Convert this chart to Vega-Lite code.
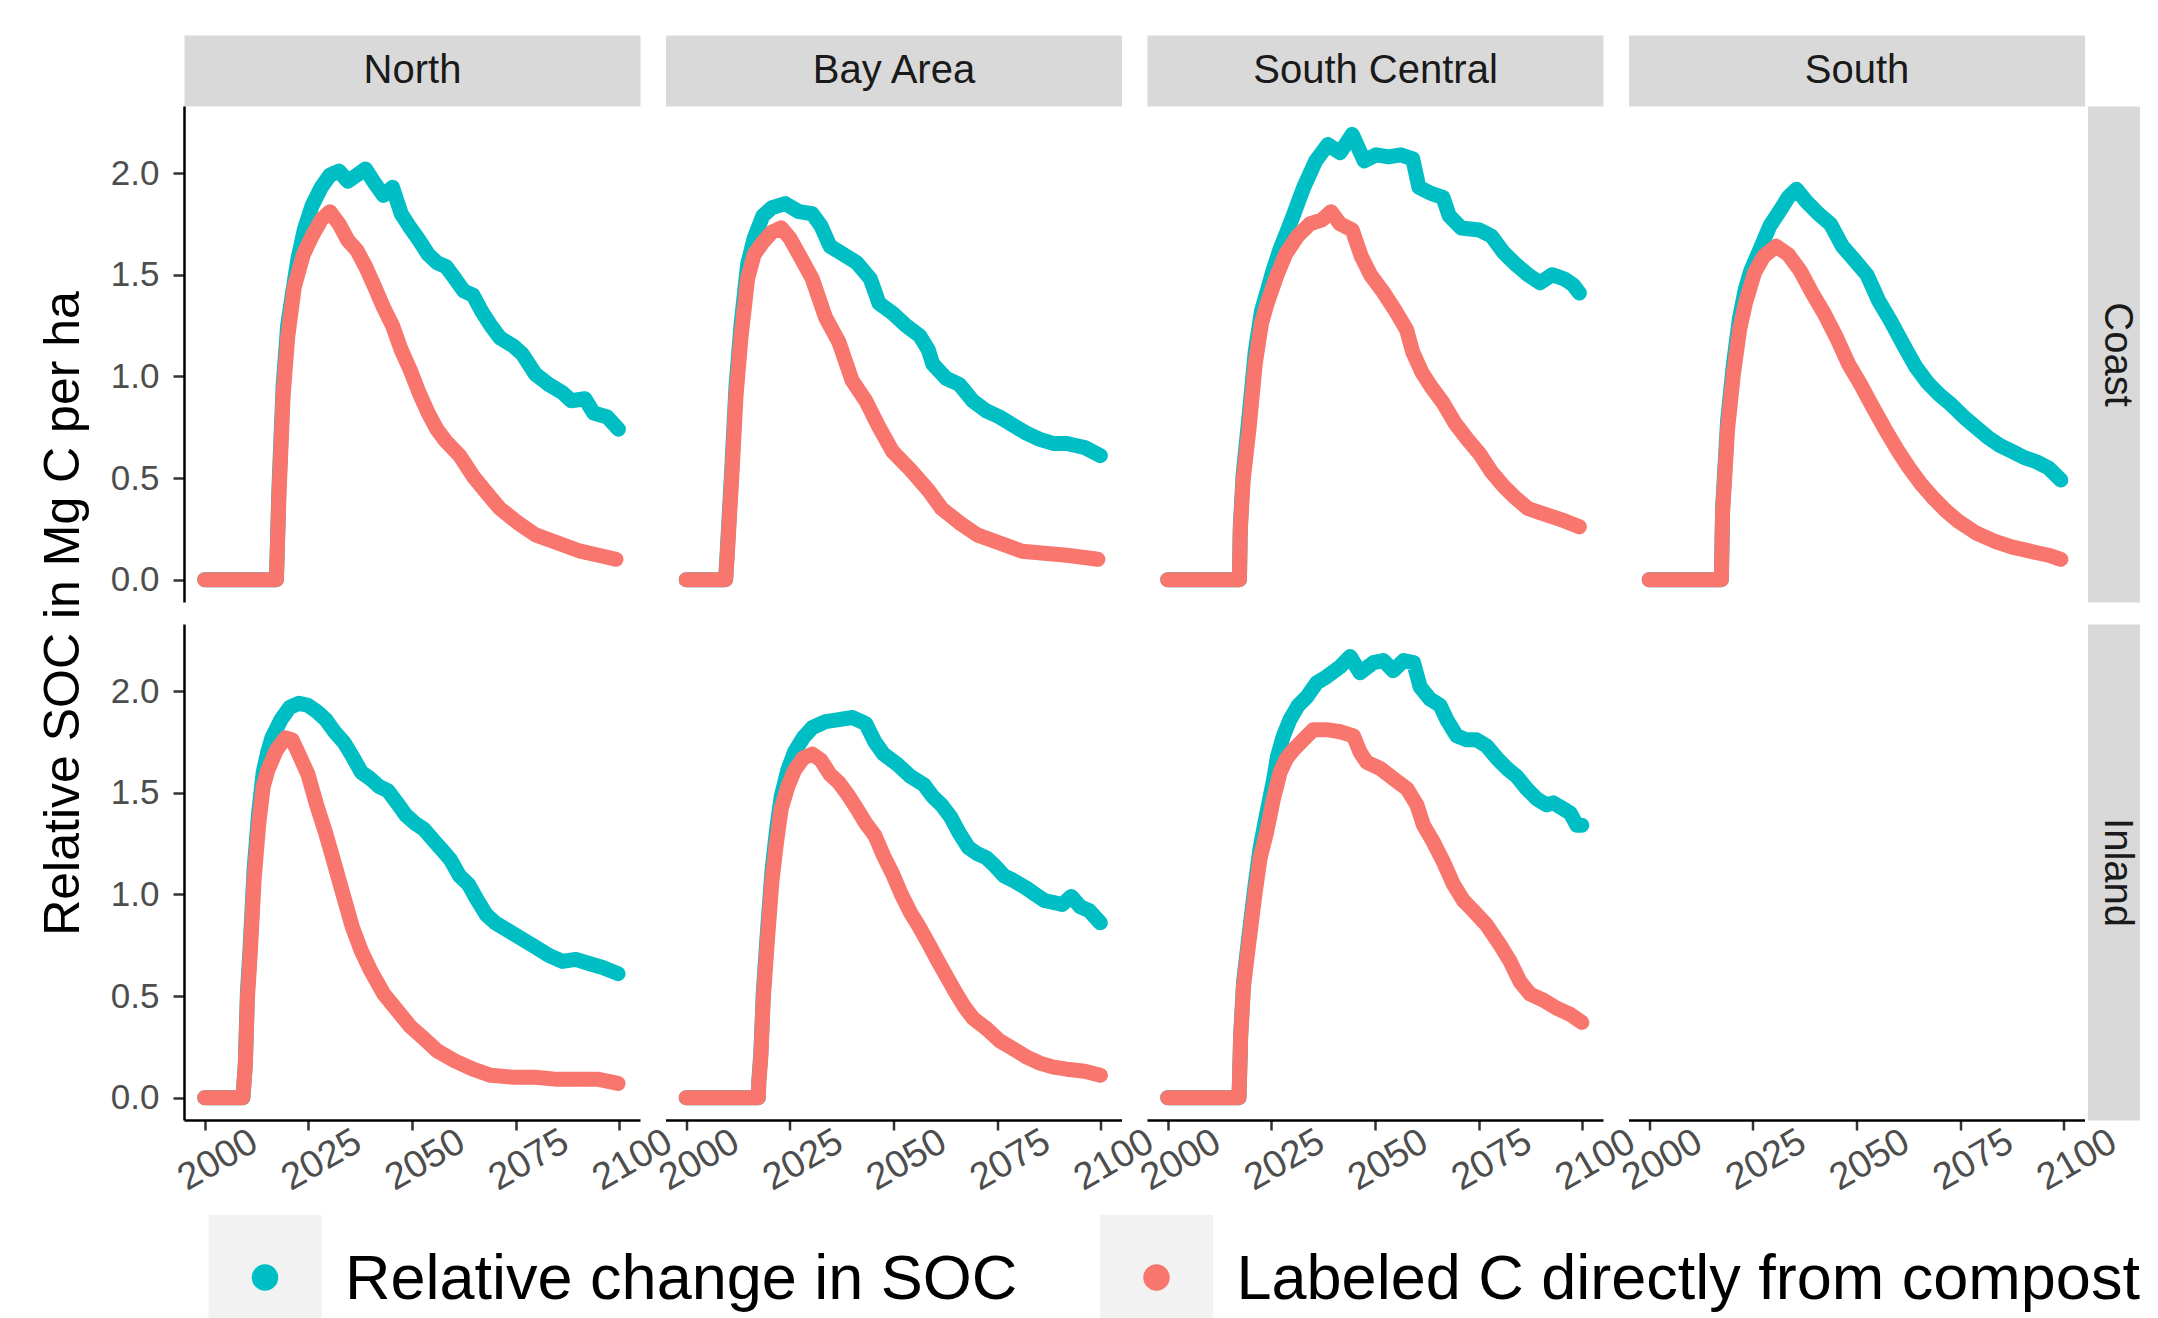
{
"$schema":"https://vega.github.io/schema/vega-lite/v6.json",
"padding":{"left":38,"top":50,"right":0,"bottom":0},
"background":"white",
"config":{"font":"Liberation Sans","view":{"stroke":null},"axis":{"grid":false}},
"datasets":{
"nc_l":[{"year":2000,"value":0},{"year":2004,"value":0},{"year":2008,"value":0},{"year":2012,"value":0},{"year":2016,"value":0},{"year":2017.3,"value":0},{"year":2017.9,"value":0.41},{"year":2018.9,"value":0.90},{"year":2020,"value":1.19},{"year":2021.6,"value":1.44},{"year":2023.8,"value":1.60},{"year":2025.9,"value":1.69},{"year":2028.1,"value":1.77},{"year":2030.2,"value":1.81},{"year":2032.4,"value":1.75},{"year":2034.5,"value":1.67},{"year":2036.7,"value":1.62},{"year":2038.8,"value":1.54},{"year":2041,"value":1.44},{"year":2043.1,"value":1.34},{"year":2045.3,"value":1.25},{"year":2047.4,"value":1.13},{"year":2049.6,"value":1.03},{"year":2051.7,"value":0.92},{"year":2053.9,"value":0.82},{"year":2056,"value":0.74},{"year":2058.2,"value":0.68},{"year":2061.5,"value":0.61},{"year":2064.7,"value":0.51},{"year":2067.9,"value":0.43},{"year":2071.2,"value":0.35},{"year":2075.5,"value":0.28},{"year":2079.8,"value":0.22},{"year":2085.2,"value":0.18},{"year":2090.6,"value":0.14},{"year":2095,"value":0.12},{"year":2099.2,"value":0.10}],
"nc_s":[{"year":2000,"value":0},{"year":2004,"value":0},{"year":2008,"value":0},{"year":2012,"value":0},{"year":2016,"value":0},{"year":2017.3,"value":0},{"year":2017.9,"value":0.45},{"year":2018.9,"value":0.95},{"year":2020,"value":1.25},{"year":2021.1,"value":1.40},{"year":2022.5,"value":1.58},{"year":2024,"value":1.72},{"year":2025.9,"value":1.84},{"year":2028.1,"value":1.93},{"year":2030.2,"value":1.99},{"year":2032.4,"value":2.01},{"year":2034.5,"value":1.96},{"year":2036.7,"value":1.99},{"year":2038.8,"value":2.02},{"year":2041,"value":1.95},{"year":2043.1,"value":1.89},{"year":2045.3,"value":1.93},{"year":2047.4,"value":1.80},{"year":2049.6,"value":1.73},{"year":2051.7,"value":1.67},{"year":2053.9,"value":1.60},{"year":2056,"value":1.56},{"year":2058.2,"value":1.54},{"year":2060.4,"value":1.48},{"year":2062.5,"value":1.42},{"year":2064.7,"value":1.40},{"year":2066.8,"value":1.32},{"year":2069,"value":1.25},{"year":2071.2,"value":1.19},{"year":2074.4,"value":1.15},{"year":2076.6,"value":1.11},{"year":2079.8,"value":1.01},{"year":2083,"value":0.96},{"year":2086.3,"value":0.92},{"year":2088.4,"value":0.88},{"year":2091.7,"value":0.89},{"year":2093.8,"value":0.82},{"year":2097.1,"value":0.80},{"year":2099.8,"value":0.74}],
"bc_l":[{"year":2000,"value":0},{"year":2003,"value":0},{"year":2006,"value":0},{"year":2009.5,"value":0},{"year":2009.9,"value":0.12},{"year":2011,"value":0.51},{"year":2012,"value":0.90},{"year":2013.2,"value":1.19},{"year":2014.8,"value":1.48},{"year":2016.4,"value":1.60},{"year":2018.5,"value":1.66},{"year":2020.7,"value":1.71},{"year":2022.9,"value":1.73},{"year":2025,"value":1.68},{"year":2027.2,"value":1.60},{"year":2030.4,"value":1.48},{"year":2033.6,"value":1.29},{"year":2036.8,"value":1.17},{"year":2040,"value":0.98},{"year":2043.3,"value":0.88},{"year":2046.5,"value":0.75},{"year":2049.8,"value":0.63},{"year":2054.1,"value":0.54},{"year":2058.4,"value":0.44},{"year":2061.6,"value":0.35},{"year":2065.9,"value":0.28},{"year":2070.2,"value":0.22},{"year":2075.6,"value":0.18},{"year":2081,"value":0.14},{"year":2086.4,"value":0.13},{"year":2091.8,"value":0.12},{"year":2099.3,"value":0.10}],
"bc_s":[{"year":2000,"value":0},{"year":2003,"value":0},{"year":2006,"value":0},{"year":2009.5,"value":0},{"year":2009.9,"value":0.14},{"year":2011,"value":0.55},{"year":2012,"value":0.95},{"year":2013.2,"value":1.25},{"year":2014.8,"value":1.55},{"year":2016.4,"value":1.68},{"year":2018.5,"value":1.79},{"year":2020.7,"value":1.83},{"year":2023.9,"value":1.85},{"year":2027.2,"value":1.81},{"year":2030.4,"value":1.80},{"year":2032.5,"value":1.74},{"year":2034.7,"value":1.64},{"year":2037.9,"value":1.60},{"year":2041.1,"value":1.56},{"year":2044.4,"value":1.48},{"year":2046.5,"value":1.36},{"year":2049.8,"value":1.31},{"year":2053,"value":1.25},{"year":2056.3,"value":1.20},{"year":2058.4,"value":1.13},{"year":2059.5,"value":1.06},{"year":2062.7,"value":0.99},{"year":2065.9,"value":0.96},{"year":2069.1,"value":0.88},{"year":2072.4,"value":0.83},{"year":2075.6,"value":0.80},{"year":2078.8,"value":0.76},{"year":2082.1,"value":0.72},{"year":2085.3,"value":0.69},{"year":2088.5,"value":0.67},{"year":2091.8,"value":0.67},{"year":2096.1,"value":0.65},{"year":2099.9,"value":0.61}],
"sc_l":[{"year":2000,"value":0},{"year":2004,"value":0},{"year":2008,"value":0},{"year":2012,"value":0},{"year":2016,"value":0},{"year":2017.3,"value":0},{"year":2017.5,"value":0.24},{"year":2018.2,"value":0.49},{"year":2019.6,"value":0.74},{"year":2021.1,"value":1.06},{"year":2022.6,"value":1.26},{"year":2024,"value":1.36},{"year":2026.2,"value":1.49},{"year":2028.4,"value":1.60},{"year":2031.3,"value":1.69},{"year":2034.3,"value":1.75},{"year":2037.2,"value":1.77},{"year":2039.4,"value":1.81},{"year":2041.6,"value":1.75},{"year":2044.5,"value":1.72},{"year":2046.7,"value":1.59},{"year":2048.9,"value":1.50},{"year":2051.8,"value":1.42},{"year":2054.7,"value":1.33},{"year":2057.6,"value":1.23},{"year":2059.1,"value":1.12},{"year":2061.3,"value":1.02},{"year":2063.5,"value":0.95},{"year":2066.4,"value":0.87},{"year":2069.3,"value":0.77},{"year":2072.3,"value":0.69},{"year":2075.2,"value":0.62},{"year":2078.1,"value":0.53},{"year":2081,"value":0.46},{"year":2084,"value":0.40},{"year":2086.9,"value":0.35},{"year":2089.8,"value":0.33},{"year":2092.7,"value":0.31},{"year":2095.6,"value":0.29},{"year":2099.3,"value":0.26}],
"sc_s":[{"year":2000,"value":0},{"year":2004,"value":0},{"year":2008,"value":0},{"year":2012,"value":0},{"year":2016,"value":0},{"year":2017.3,"value":0},{"year":2017.5,"value":0.26},{"year":2018.2,"value":0.52},{"year":2019.6,"value":0.80},{"year":2021.1,"value":1.12},{"year":2022.6,"value":1.32},{"year":2024,"value":1.42},{"year":2025.4,"value":1.52},{"year":2027,"value":1.62},{"year":2029.9,"value":1.77},{"year":2032.8,"value":1.93},{"year":2035.7,"value":2.06},{"year":2038.6,"value":2.14},{"year":2041.6,"value":2.10},{"year":2044.5,"value":2.19},{"year":2047.4,"value":2.06},{"year":2050.3,"value":2.09},{"year":2053.3,"value":2.08},{"year":2056.2,"value":2.09},{"year":2059.1,"value":2.07},{"year":2060.6,"value":1.93},{"year":2063.5,"value":1.90},{"year":2066.4,"value":1.88},{"year":2067.9,"value":1.79},{"year":2070.8,"value":1.73},{"year":2075.2,"value":1.72},{"year":2078.1,"value":1.69},{"year":2081,"value":1.61},{"year":2084,"value":1.55},{"year":2086.9,"value":1.50},{"year":2089.8,"value":1.46},{"year":2092.7,"value":1.50},{"year":2095.6,"value":1.48},{"year":2097.8,"value":1.45},{"year":2099.3,"value":1.41}],
"so_l":[{"year":2000,"value":0},{"year":2004,"value":0},{"year":2008,"value":0},{"year":2012,"value":0},{"year":2016,"value":0},{"year":2017.4,"value":0},{"year":2017.7,"value":0.33},{"year":2018.9,"value":0.74},{"year":2020.3,"value":1.01},{"year":2021.8,"value":1.23},{"year":2023.2,"value":1.36},{"year":2025.4,"value":1.51},{"year":2027.6,"value":1.59},{"year":2030.6,"value":1.64},{"year":2033.5,"value":1.60},{"year":2036.4,"value":1.52},{"year":2039.3,"value":1.41},{"year":2042.2,"value":1.31},{"year":2045.2,"value":1.19},{"year":2048.1,"value":1.06},{"year":2051,"value":0.96},{"year":2053.9,"value":0.85},{"year":2056.9,"value":0.74},{"year":2059.8,"value":0.64},{"year":2062.7,"value":0.55},{"year":2065.6,"value":0.47},{"year":2068.6,"value":0.40},{"year":2071.5,"value":0.34},{"year":2074.4,"value":0.29},{"year":2078.8,"value":0.23},{"year":2083.2,"value":0.19},{"year":2087.6,"value":0.16},{"year":2091.9,"value":0.14},{"year":2096.3,"value":0.12},{"year":2099.3,"value":0.10}],
"so_s":[{"year":2000,"value":0},{"year":2004,"value":0},{"year":2008,"value":0},{"year":2012,"value":0},{"year":2016,"value":0},{"year":2017.4,"value":0},{"year":2017.7,"value":0.35},{"year":2018.9,"value":0.78},{"year":2020.3,"value":1.06},{"year":2021.8,"value":1.29},{"year":2023.2,"value":1.43},{"year":2024.5,"value":1.52},{"year":2026.2,"value":1.60},{"year":2029.1,"value":1.74},{"year":2032,"value":1.83},{"year":2033.5,"value":1.88},{"year":2035.5,"value":1.92},{"year":2037.9,"value":1.86},{"year":2040.8,"value":1.80},{"year":2043.7,"value":1.75},{"year":2046.6,"value":1.64},{"year":2049.6,"value":1.57},{"year":2052.5,"value":1.50},{"year":2055.4,"value":1.37},{"year":2058.3,"value":1.27},{"year":2061.2,"value":1.16},{"year":2064.2,"value":1.05},{"year":2067.1,"value":0.97},{"year":2070,"value":0.91},{"year":2072.9,"value":0.86},{"year":2075.9,"value":0.80},{"year":2078.8,"value":0.75},{"year":2081.7,"value":0.70},{"year":2084.6,"value":0.66},{"year":2087.6,"value":0.63},{"year":2090.5,"value":0.60},{"year":2093.4,"value":0.58},{"year":2096.3,"value":0.55},{"year":2099.3,"value":0.49}],
"ni_l":[{"year":2000,"value":0},{"year":2003,"value":0},{"year":2006,"value":0},{"year":2009.2,"value":0},{"year":2009.4,"value":0.05},{"year":2009.8,"value":0.16},{"year":2010.3,"value":0.49},{"year":2010.9,"value":0.68},{"year":2011.9,"value":1.07},{"year":2013,"value":1.34},{"year":2014.1,"value":1.53},{"year":2015.2,"value":1.61},{"year":2017.3,"value":1.71},{"year":2019.5,"value":1.77},{"year":2021.1,"value":1.76},{"year":2022.7,"value":1.69},{"year":2024.9,"value":1.59},{"year":2027,"value":1.44},{"year":2029.2,"value":1.30},{"year":2031.3,"value":1.15},{"year":2033.5,"value":0.99},{"year":2035.6,"value":0.84},{"year":2037.8,"value":0.72},{"year":2039.9,"value":0.63},{"year":2043.2,"value":0.51},{"year":2046.4,"value":0.43},{"year":2049.6,"value":0.35},{"year":2052.9,"value":0.29},{"year":2056.1,"value":0.23},{"year":2060.4,"value":0.18},{"year":2064.7,"value":0.14},{"year":2069,"value":0.11},{"year":2074.4,"value":0.10},{"year":2079.8,"value":0.10},{"year":2085,"value":0.09},{"year":2090.5,"value":0.09},{"year":2095,"value":0.09},{"year":2099.7,"value":0.07}],
"ni_s":[{"year":2000,"value":0},{"year":2003,"value":0},{"year":2006,"value":0},{"year":2009.2,"value":0},{"year":2009.4,"value":0.05},{"year":2009.8,"value":0.17},{"year":2010.3,"value":0.52},{"year":2010.9,"value":0.72},{"year":2011.9,"value":1.12},{"year":2013,"value":1.40},{"year":2014.1,"value":1.60},{"year":2015.2,"value":1.70},{"year":2016.2,"value":1.77},{"year":2018.4,"value":1.86},{"year":2020.5,"value":1.92},{"year":2022.7,"value":1.94},{"year":2024.9,"value":1.93},{"year":2027,"value":1.90},{"year":2029.2,"value":1.86},{"year":2031.3,"value":1.80},{"year":2033.5,"value":1.75},{"year":2035.6,"value":1.68},{"year":2037.8,"value":1.60},{"year":2039.9,"value":1.57},{"year":2042.1,"value":1.53},{"year":2044.2,"value":1.51},{"year":2046.4,"value":1.45},{"year":2048.5,"value":1.39},{"year":2050.7,"value":1.35},{"year":2052.9,"value":1.32},{"year":2055,"value":1.27},{"year":2057.2,"value":1.22},{"year":2059.3,"value":1.17},{"year":2061.5,"value":1.09},{"year":2063.6,"value":1.05},{"year":2065.8,"value":0.97},{"year":2067.9,"value":0.90},{"year":2070.1,"value":0.86},{"year":2073.3,"value":0.82},{"year":2076.6,"value":0.78},{"year":2079.8,"value":0.74},{"year":2083,"value":0.70},{"year":2086.3,"value":0.67},{"year":2089.5,"value":0.68},{"year":2092.7,"value":0.66},{"year":2096,"value":0.64},{"year":2099.7,"value":0.61}],
"bi_l":[{"year":2000,"value":0},{"year":2004,"value":0},{"year":2008,"value":0},{"year":2012,"value":0},{"year":2016,"value":0},{"year":2017.4,"value":0},{"year":2017.5,"value":0.07},{"year":2018,"value":0.20},{"year":2018.6,"value":0.49},{"year":2019.6,"value":0.78},{"year":2020.7,"value":1.07},{"year":2021.8,"value":1.26},{"year":2022.9,"value":1.42},{"year":2024.5,"value":1.53},{"year":2026.1,"value":1.61},{"year":2028.2,"value":1.67},{"year":2030.4,"value":1.69},{"year":2032.5,"value":1.66},{"year":2034.7,"value":1.59},{"year":2036.8,"value":1.55},{"year":2039,"value":1.49},{"year":2041.2,"value":1.42},{"year":2043.3,"value":1.35},{"year":2045.5,"value":1.29},{"year":2047.6,"value":1.19},{"year":2049.8,"value":1.10},{"year":2051.9,"value":1.00},{"year":2054.1,"value":0.91},{"year":2056.2,"value":0.84},{"year":2058.4,"value":0.76},{"year":2060.5,"value":0.68},{"year":2062.7,"value":0.60},{"year":2064.9,"value":0.52},{"year":2067,"value":0.45},{"year":2069.2,"value":0.39},{"year":2072.4,"value":0.34},{"year":2075.6,"value":0.28},{"year":2078.9,"value":0.24},{"year":2082.1,"value":0.20},{"year":2085.3,"value":0.17},{"year":2088.6,"value":0.15},{"year":2091.8,"value":0.14},{"year":2096.1,"value":0.13},{"year":2099.9,"value":0.11}],
"bi_s":[{"year":2000,"value":0},{"year":2004,"value":0},{"year":2008,"value":0},{"year":2012,"value":0},{"year":2016,"value":0},{"year":2017.4,"value":0},{"year":2017.5,"value":0.08},{"year":2018,"value":0.22},{"year":2018.6,"value":0.52},{"year":2019.6,"value":0.82},{"year":2020.7,"value":1.12},{"year":2021.8,"value":1.32},{"year":2022.9,"value":1.48},{"year":2024.5,"value":1.61},{"year":2026.1,"value":1.70},{"year":2028.2,"value":1.77},{"year":2030.4,"value":1.82},{"year":2033.6,"value":1.85},{"year":2036.8,"value":1.86},{"year":2040.1,"value":1.87},{"year":2043.3,"value":1.84},{"year":2045.5,"value":1.75},{"year":2047.6,"value":1.69},{"year":2050.9,"value":1.64},{"year":2054.1,"value":1.58},{"year":2057.3,"value":1.54},{"year":2059.5,"value":1.48},{"year":2061.6,"value":1.44},{"year":2063.8,"value":1.38},{"year":2065.9,"value":1.30},{"year":2068.1,"value":1.23},{"year":2070.2,"value":1.20},{"year":2072.4,"value":1.18},{"year":2074.5,"value":1.14},{"year":2076.7,"value":1.09},{"year":2078.8,"value":1.07},{"year":2082.1,"value":1.03},{"year":2084.2,"value":1.00},{"year":2086.4,"value":0.97},{"year":2088.6,"value":0.96},{"year":2090.7,"value":0.95},{"year":2092.9,"value":0.99},{"year":2095,"value":0.94},{"year":2097.2,"value":0.92},{"year":2099.9,"value":0.86}],
"si_l":[{"year":2000,"value":0},{"year":2004,"value":0},{"year":2008,"value":0},{"year":2012,"value":0},{"year":2016,"value":0},{"year":2017.2,"value":0},{"year":2017.6,"value":0.30},{"year":2018.3,"value":0.55},{"year":2019.5,"value":0.75},{"year":2021.1,"value":1.01},{"year":2022.3,"value":1.18},{"year":2023.9,"value":1.31},{"year":2025.5,"value":1.47},{"year":2027.1,"value":1.60},{"year":2028.7,"value":1.67},{"year":2030.3,"value":1.71},{"year":2032.7,"value":1.76},{"year":2035.1,"value":1.81},{"year":2038.3,"value":1.81},{"year":2041.6,"value":1.80},{"year":2044.8,"value":1.78},{"year":2046.4,"value":1.70},{"year":2048,"value":1.65},{"year":2051.2,"value":1.62},{"year":2054.4,"value":1.57},{"year":2057.7,"value":1.52},{"year":2060.1,"value":1.44},{"year":2061.7,"value":1.34},{"year":2064,"value":1.26},{"year":2066.5,"value":1.16},{"year":2068.9,"value":1.05},{"year":2071.3,"value":0.97},{"year":2073.7,"value":0.92},{"year":2076.9,"value":0.85},{"year":2080.2,"value":0.75},{"year":2082.6,"value":0.67},{"year":2085,"value":0.57},{"year":2087.4,"value":0.51},{"year":2090.6,"value":0.48},{"year":2093.8,"value":0.44},{"year":2097.1,"value":0.41},{"year":2099.9,"value":0.37}],
"si_s":[{"year":2000,"value":0},{"year":2004,"value":0},{"year":2008,"value":0},{"year":2012,"value":0},{"year":2016,"value":0},{"year":2017.2,"value":0},{"year":2017.6,"value":0.31},{"year":2018.3,"value":0.57},{"year":2019.5,"value":0.78},{"year":2021.1,"value":1.05},{"year":2022.3,"value":1.23},{"year":2023.9,"value":1.40},{"year":2025.5,"value":1.56},{"year":2026.5,"value":1.68},{"year":2027.9,"value":1.78},{"year":2029.5,"value":1.86},{"year":2031.5,"value":1.93},{"year":2033.5,"value":1.97},{"year":2035.9,"value":2.04},{"year":2038.3,"value":2.07},{"year":2041.6,"value":2.12},{"year":2044,"value":2.17},{"year":2046.4,"value":2.09},{"year":2049.6,"value":2.14},{"year":2052,"value":2.15},{"year":2054.4,"value":2.10},{"year":2056.9,"value":2.15},{"year":2059.3,"value":2.14},{"year":2060.9,"value":2.02},{"year":2063.3,"value":1.96},{"year":2065.7,"value":1.93},{"year":2067.3,"value":1.86},{"year":2069.7,"value":1.78},{"year":2072.1,"value":1.76},{"year":2074.5,"value":1.76},{"year":2076.9,"value":1.73},{"year":2079.4,"value":1.67},{"year":2081.8,"value":1.62},{"year":2084.2,"value":1.58},{"year":2086.6,"value":1.52},{"year":2089,"value":1.47},{"year":2091.4,"value":1.44},{"year":2093,"value":1.45},{"year":2095.5,"value":1.42},{"year":2097.1,"value":1.40},{"year":2098.7,"value":1.34},{"year":2099.9,"value":1.34}],
"legend":[{"series":"Relative change in SOC"},{"series":"Labeled C directly from compost"}]
},
"spacing":17,
"vconcat":[
{"concat":[
{"width":456,"height":496,
"encoding":{"x":{"field":"year","type":"quantitative","scale":{"domain":[1995,2105],"nice":false,"zero":false},"axis":{"orient":"top","domain":true,"domainColor":"#D9D9D9","domainWidth":71,"offset":35.5,"ticks":false,"labels":false,"title":"North","titleFontSize":40,"titleFontWeight":"normal","titleColor":"#1A1A1A","titleX":228,"titleY":0,"titleAlign":"center","titleBaseline":"middle","titleAngle":0}},
"y":{"field":"value","type":"quantitative","scale":{"domain":[-0.11,2.33],"nice":false,"zero":false},"axis":{"orient":"left","values":[0,0.5,1,1.5,2],"format":".1f","domainColor":"#000000","domainWidth":2.5,"tickColor":"#333333","tickWidth":2.5,"tickSize":11,"labelPadding":14,"labelFontSize":35,"labelColor":"#4D4D4D","title":"Relative SOC in Mg C per ha","titleFontSize":50,"titleFontWeight":"normal","titleColor":"#000000","titleAngle":-90,"titleX":-106,"titleY":507,"titleAlign":"center","titleBaseline":"alphabetic"}}},
"layer":[{"data":{"name":"nc_s"},"mark":{"type":"line","color":"#00BFC4","strokeWidth":15,"strokeCap":"round","strokeJoin":"round","point":{"filled":true,"size":180,"color":"#00BFC4"}}},
{"data":{"name":"nc_l"},"mark":{"type":"line","color":"#F8766D","strokeWidth":15,"strokeCap":"round","strokeJoin":"round","point":{"filled":true,"size":180,"color":"#F8766D"}}}]},
{"width":456,"height":496,
"encoding":{"x":{"field":"year","type":"quantitative","scale":{"domain":[1995,2105],"nice":false,"zero":false},"axis":{"orient":"top","domain":true,"domainColor":"#D9D9D9","domainWidth":71,"offset":35.5,"ticks":false,"labels":false,"title":"Bay Area","titleFontSize":40,"titleFontWeight":"normal","titleColor":"#1A1A1A","titleX":228,"titleY":0,"titleAlign":"center","titleBaseline":"middle","titleAngle":0}},
"y":{"field":"value","type":"quantitative","scale":{"domain":[-0.11,2.33],"nice":false,"zero":false},"axis":null}},
"layer":[{"data":{"name":"bc_s"},"mark":{"type":"line","color":"#00BFC4","strokeWidth":15,"strokeCap":"round","strokeJoin":"round","point":{"filled":true,"size":180,"color":"#00BFC4"}}},
{"data":{"name":"bc_l"},"mark":{"type":"line","color":"#F8766D","strokeWidth":15,"strokeCap":"round","strokeJoin":"round","point":{"filled":true,"size":180,"color":"#F8766D"}}}]},
{"width":456,"height":496,
"encoding":{"x":{"field":"year","type":"quantitative","scale":{"domain":[1995,2105],"nice":false,"zero":false},"axis":{"orient":"top","domain":true,"domainColor":"#D9D9D9","domainWidth":71,"offset":35.5,"ticks":false,"labels":false,"title":"South Central","titleFontSize":40,"titleFontWeight":"normal","titleColor":"#1A1A1A","titleX":228,"titleY":0,"titleAlign":"center","titleBaseline":"middle","titleAngle":0}},
"y":{"field":"value","type":"quantitative","scale":{"domain":[-0.11,2.33],"nice":false,"zero":false},"axis":null}},
"layer":[{"data":{"name":"sc_s"},"mark":{"type":"line","color":"#00BFC4","strokeWidth":15,"strokeCap":"round","strokeJoin":"round","point":{"filled":true,"size":180,"color":"#00BFC4"}}},
{"data":{"name":"sc_l"},"mark":{"type":"line","color":"#F8766D","strokeWidth":15,"strokeCap":"round","strokeJoin":"round","point":{"filled":true,"size":180,"color":"#F8766D"}}}]},
{"width":456,"height":496,
"encoding":{"x":{"field":"year","type":"quantitative","scale":{"domain":[1995,2105],"nice":false,"zero":false},"axis":{"orient":"top","domain":true,"domainColor":"#D9D9D9","domainWidth":71,"offset":35.5,"ticks":false,"labels":false,"title":"South","titleFontSize":40,"titleFontWeight":"normal","titleColor":"#1A1A1A","titleX":228,"titleY":0,"titleAlign":"center","titleBaseline":"middle","titleAngle":0}},
"y":{"field":"value","type":"quantitative","scale":{"domain":[-0.11,2.33],"nice":false,"zero":false},"axis":{"orient":"right","domain":true,"domainColor":"#D9D9D9","domainWidth":70,"offset":38,"ticks":false,"labels":false,"title":"Coast","titleFontSize":40,"titleFontWeight":"normal","titleColor":"#1A1A1A","titleAngle":90,"titleX":-6,"titleY":248,"titleAlign":"center","titleBaseline":"middle"}}},
"layer":[{"data":{"name":"so_s"},"mark":{"type":"line","color":"#00BFC4","strokeWidth":15,"strokeCap":"round","strokeJoin":"round","point":{"filled":true,"size":180,"color":"#00BFC4"}}},
{"data":{"name":"so_l"},"mark":{"type":"line","color":"#F8766D","strokeWidth":15,"strokeCap":"round","strokeJoin":"round","point":{"filled":true,"size":180,"color":"#F8766D"}}}]},
{"width":456,"height":496,
"encoding":{"x":{"field":"year","type":"quantitative","scale":{"domain":[1995,2105],"nice":false,"zero":false},"axis":{"orient":"bottom","values":[2000,2025,2050,2075,2100],"format":"d","domainColor":"#000000","domainWidth":2.5,"tickColor":"#333333","tickWidth":2.5,"tickSize":10,"labelAngle":-30,"labelAlign":"center","labelBaseline":"middle","labelPadding":30,"labelOffset":13,"labelFontSize":38,"labelColor":"#4D4D4D","labelFlush":false,"labelOverlap":false,"title":null}},
"y":{"field":"value","type":"quantitative","scale":{"domain":[-0.11,2.33],"nice":false,"zero":false},"axis":{"orient":"left","values":[0,0.5,1,1.5,2],"format":".1f","domainColor":"#000000","domainWidth":2.5,"tickColor":"#333333","tickWidth":2.5,"tickSize":11,"labelPadding":14,"labelFontSize":35,"labelColor":"#4D4D4D","title":null}}},
"layer":[{"data":{"name":"ni_s"},"mark":{"type":"line","color":"#00BFC4","strokeWidth":15,"strokeCap":"round","strokeJoin":"round","point":{"filled":true,"size":180,"color":"#00BFC4"}}},
{"data":{"name":"ni_l"},"mark":{"type":"line","color":"#F8766D","strokeWidth":15,"strokeCap":"round","strokeJoin":"round","point":{"filled":true,"size":180,"color":"#F8766D"}}}]},
{"width":456,"height":496,
"encoding":{"x":{"field":"year","type":"quantitative","scale":{"domain":[1995,2105],"nice":false,"zero":false},"axis":{"orient":"bottom","values":[2000,2025,2050,2075,2100],"format":"d","domainColor":"#000000","domainWidth":2.5,"tickColor":"#333333","tickWidth":2.5,"tickSize":10,"labelAngle":-30,"labelAlign":"center","labelBaseline":"middle","labelPadding":30,"labelOffset":13,"labelFontSize":38,"labelColor":"#4D4D4D","labelFlush":false,"labelOverlap":false,"title":null}},
"y":{"field":"value","type":"quantitative","scale":{"domain":[-0.11,2.33],"nice":false,"zero":false},"axis":null}},
"layer":[{"data":{"name":"bi_s"},"mark":{"type":"line","color":"#00BFC4","strokeWidth":15,"strokeCap":"round","strokeJoin":"round","point":{"filled":true,"size":180,"color":"#00BFC4"}}},
{"data":{"name":"bi_l"},"mark":{"type":"line","color":"#F8766D","strokeWidth":15,"strokeCap":"round","strokeJoin":"round","point":{"filled":true,"size":180,"color":"#F8766D"}}}]},
{"width":456,"height":496,
"encoding":{"x":{"field":"year","type":"quantitative","scale":{"domain":[1995,2105],"nice":false,"zero":false},"axis":{"orient":"bottom","values":[2000,2025,2050,2075,2100],"format":"d","domainColor":"#000000","domainWidth":2.5,"tickColor":"#333333","tickWidth":2.5,"tickSize":10,"labelAngle":-30,"labelAlign":"center","labelBaseline":"middle","labelPadding":30,"labelOffset":13,"labelFontSize":38,"labelColor":"#4D4D4D","labelFlush":false,"labelOverlap":false,"title":null}},
"y":{"field":"value","type":"quantitative","scale":{"domain":[-0.11,2.33],"nice":false,"zero":false},"axis":null}},
"layer":[{"data":{"name":"si_s"},"mark":{"type":"line","color":"#00BFC4","strokeWidth":15,"strokeCap":"round","strokeJoin":"round","point":{"filled":true,"size":180,"color":"#00BFC4"}}},
{"data":{"name":"si_l"},"mark":{"type":"line","color":"#F8766D","strokeWidth":15,"strokeCap":"round","strokeJoin":"round","point":{"filled":true,"size":180,"color":"#F8766D"}}}]},
{"width":456,"height":496,
"data":{"values":[]},
"encoding":{"x":{"field":"year","type":"quantitative","scale":{"domain":[1995,2105],"nice":false,"zero":false},"axis":{"orient":"bottom","values":[2000,2025,2050,2075,2100],"format":"d","domainColor":"#000000","domainWidth":2.5,"tickColor":"#333333","tickWidth":2.5,"tickSize":10,"labelAngle":-30,"labelAlign":"center","labelBaseline":"middle","labelPadding":30,"labelOffset":13,"labelFontSize":38,"labelColor":"#4D4D4D","labelFlush":false,"labelOverlap":false,"title":null}},
"y":{"field":"value","type":"quantitative","scale":{"domain":[-0.11,2.33],"nice":false,"zero":false},"axis":{"orient":"right","domain":true,"domainColor":"#D9D9D9","domainWidth":70,"offset":38,"ticks":false,"labels":false,"title":"Inland","titleFontSize":40,"titleFontWeight":"normal","titleColor":"#1A1A1A","titleAngle":90,"titleX":-6,"titleY":248,"titleAlign":"center","titleBaseline":"middle"}}},
"mark":{"type":"point","filled":true,"size":180,"color":"#00BFC4"}}
],
"columns":4,"spacing":{"row":22,"column":25.5},"bounds":"flush"},
{"width":1900,"height":113,
"data":{"name":"legend"},
"encoding":{"x":{"field":"series","type":"nominal","scale":{"type":"point","domain":["Relative change in SOC","Labeled C directly from compost"],"range":[81,972.5],"padding":0},"axis":null}},
"layer":[
{"mark":{"type":"square","size":12769,"color":"#F2F2F2","opacity":1,"filled":true}},
{"mark":{"type":"circle","size":700,"opacity":1,"yOffset":6},"encoding":{"color":{"field":"series","type":"nominal","scale":{"domain":["Relative change in SOC","Labeled C directly from compost"],"range":["#00BFC4","#F8766D"]},"legend":null}}},
{"mark":{"type":"text","align":"left","baseline":"middle","dx":80,"yOffset":8,"fontSize":63,"color":"#000000"},"encoding":{"text":{"field":"series","type":"nominal"}}}
]}
]
}
